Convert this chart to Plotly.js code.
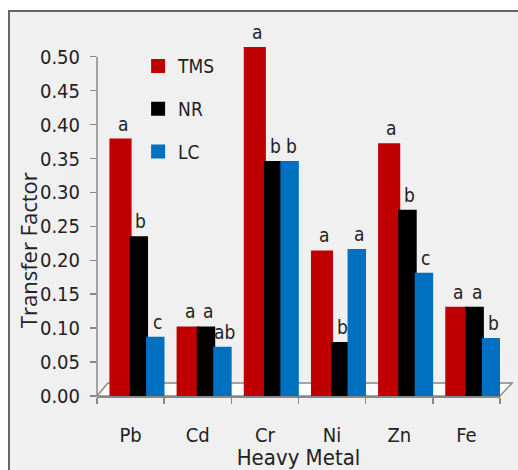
<!DOCTYPE html>
<html>
<head>
<meta charset="utf-8">
<script src="https://cdn.plot.ly/plotly-3.0.1.min.js"></script>
<style>html,body{margin:0;padding:0;background:#fff;}#chart{width:518px;height:470px;}</style>
</head>
<body>
<div id="chart"></div>
<script>
const metals = ['Pb', 'Cd', 'Cr', 'Ni', 'Zn', 'Fe'];
const tms = [0.378, 0.101, 0.513, 0.213, 0.371, 0.130];
const nr  = [0.234, 0.101, 0.345, 0.078, 0.273, 0.130];
const lc  = [0.086, 0.071, 0.345, 0.215, 0.180, 0.084];
const tmsLetters = ['a', 'a', 'a', 'a', 'a', 'a'];
const nrLetters  = ['b', 'a', 'b', 'b', 'b', 'a'];
const lcLetters  = ['c', 'ab', 'b', 'a', 'c', 'b'];
const yTicks = [0, 0.05, 0.10, 0.15, 0.20, 0.25, 0.30, 0.35, 0.40, 0.45, 0.50];

const FONT = '"Liberation Sans Narrow", "DejaVu Sans Condensed", Lato, sans-serif';
const TITLEFONT = '"Open Sans", Lato, sans-serif';
const series = [
  {name: 'TMS', y: tms, letters: tmsLetters, color: '#c00000', offset: -0.30, width: 0.30},
  {name: 'NR',  y: nr,  letters: nrLetters,  color: '#000000', offset: 0.0,   width: 0.245},
  {name: 'LC',  y: lc,  letters: lcLetters,  color: '#0070c0', offset: 0.245, width: 0.245}
];

const traces = series.map((s, k) => ({
  type: 'bar', name: s.name, x: metals, y: s.y,
  offset: s.offset, width: s.width,
  marker: {color: s.color, line: {width: 2, color: s.color}},
  legendgroup: 'g' + k, cliponaxis: false, hoverinfo: 'skip'
}));

const annotations = [];
series.forEach(s => {
  s.y.forEach((v, i) => {
    annotations.push({
      x: i + s.offset + s.width / 2, y: v, xref: 'x', yref: 'y',
      text: s.letters[i], showarrow: false, yanchor: 'bottom', xshift: 2, yshift: 3,
      font: {family: FONT, size: 19, color: '#222'}
    });
  });
});
annotations.push({
  text: 'Transfer Factor', xref: 'paper', yref: 'paper', x: -0.171, y: 0.384,
  xanchor: 'center', yanchor: 'middle', textangle: -90, showarrow: false,
  font: {family: TITLEFONT, size: 22, color: '#222'}
});

const layout = {
  width: 518, height: 470,
  margin: {l: 97, r: 18, t: 16, b: 74},
  paper_bgcolor: '#ffffff', plot_bgcolor: 'rgba(0,0,0,0)',
  barmode: 'overlay',
  showlegend: true,
  legend: {x: 0.102, y: 0.918, xanchor: 'left', yanchor: 'top', bgcolor: 'rgba(0,0,0,0)',
           traceorder: 'grouped', tracegroupgap: 15, itemwidth: 30,
           font: {family: FONT, size: 19, color: '#222'}},
  font: {family: FONT, size: 19, color: '#222'},
  xaxis: {
    type: 'category', range: [-0.5, 5.5], tickson: 'boundaries',
    ticks: 'outside', ticklen: 6, tickcolor: '#888', tickwidth: 1.5,
    showline: true, linecolor: '#888', linewidth: 1.5, showgrid: false, zeroline: false,
    ticklabelstandoff: 20, tickfont: {family: FONT, size: 20, color: '#222'},
    title: {text: 'Heavy Metal', standoff: 2, font: {family: FONT, size: 22, color: '#222'}}
  },
  yaxis: {
    range: [0, 0.56], tickvals: yTicks, tickformat: '.2f',
    ticks: 'outside', ticklen: 6, tickcolor: '#888', tickwidth: 1.5,
    showline: false, showgrid: false, zeroline: false,
    ticklabelstandoff: 6, tickfont: {family: FONT, size: 20, color: '#222'}
  },
  shapes: [
    {type: 'rect', xref: 'paper', yref: 'paper', x0: -0.2184, x1: 1.2, y0: -0.4, y1: 1.0132,
     fillcolor: '#f0f0f0', line: {color: '#666', width: 2}, layer: 'below'},
    {type: 'path', xref: 'paper', yref: 'paper', path: 'M 0,0 L 0.027,0.0342 L 1.03,0.0342 L 1,0 Z',
     fillcolor: '#ffffff', line: {color: '#888', width: 1.5}, layer: 'below'},
    {type: 'line', xref: 'paper', yref: 'y', x0: 0, x1: 0, y0: 0, y1: 0.5,
     line: {color: '#888', width: 1.5}, layer: 'below'}
  ],
  annotations: annotations
};

Plotly.newPlot('chart', traces, layout, {displayModeBar: false, staticPlot: true});
</script>
</body>
</html>
